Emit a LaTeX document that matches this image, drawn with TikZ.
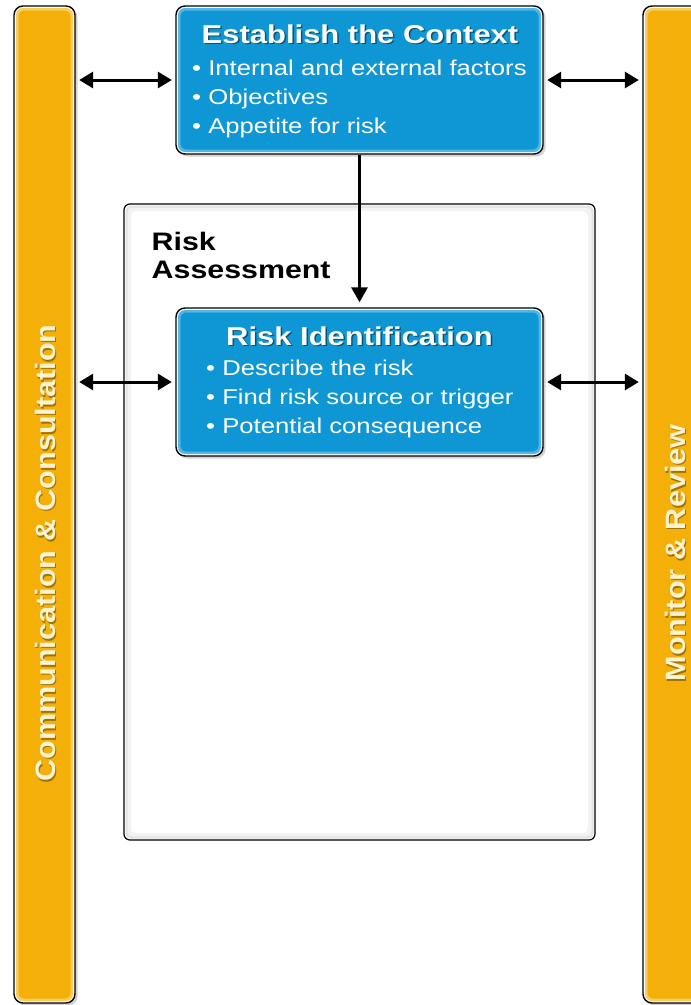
\documentclass[tikz,border=0pt]{standalone}
\usepackage{fontspec}
\setmainfont{Liberation Sans}
\newfontfamily\wide[FakeStretch=1.2]{Liberation Sans}
\usetikzlibrary{shadows,arrows.meta}
\definecolor{boxblue}{HTML}{0F97D5}
\definecolor{boxglow}{HTML}{52B6E6}
\definecolor{barorange}{HTML}{F4B008}
\definecolor{barglow}{HTML}{F8CB5A}
\definecolor{bartext}{HTML}{FFF3D2}
\begin{document}
\begin{tikzpicture}[x=1pt,y=-1pt,
  panel/.style={draw=black, line width=1.4pt, fill=white, rounded corners=9pt,
    inner sep=0pt, minimum width=367pt, minimum height=148pt,
    drop shadow={shadow xshift=2.5pt, shadow yshift=-2.5pt, opacity=0.35},
    path picture={
      \fill[boxglow, rounded corners=7pt] ([shift={(2pt,-2pt)}]path picture bounding box.north west) rectangle ([shift={(-2pt,2pt)}]path picture bounding box.south east);
      \fill[boxblue, rounded corners=6pt] ([shift={(4.5pt,-4.5pt)}]path picture bounding box.north west) rectangle ([shift={(-4.5pt,4.5pt)}]path picture bounding box.south east);
    }},
  bar/.style={draw=black, line width=1.4pt, fill=white, rounded corners=9pt,
    inner sep=0pt, minimum width=61pt, minimum height=997pt,
    drop shadow={shadow xshift=2.5pt, shadow yshift=-2.5pt, opacity=0.35},
    path picture={
      \fill[barglow, rounded corners=7pt] ([shift={(2pt,-2pt)}]path picture bounding box.north west) rectangle ([shift={(-2pt,2pt)}]path picture bounding box.south east);
      \fill[barorange, rounded corners=6pt] ([shift={(4.5pt,-4.5pt)}]path picture bounding box.north west) rectangle ([shift={(-4.5pt,4.5pt)}]path picture bounding box.south east);
    }},
  frame/.style={draw=black, line width=1.2pt, fill=white, rounded corners=6pt,
    inner sep=0pt, minimum width=471pt, minimum height=636pt,
    path picture={
      \fill[gray!22, rounded corners=5pt] ([shift={(1.5pt,-1.5pt)}]path picture bounding box.north west) rectangle ([shift={(-1.5pt,1.5pt)}]path picture bounding box.south east);
      \fill[gray!10, rounded corners=5pt] ([shift={(3.5pt,-3.5pt)}]path picture bounding box.north west) rectangle ([shift={(-3.5pt,3.5pt)}]path picture bounding box.south east);
      \fill[white, rounded corners=5pt] ([shift={(7pt,-7pt)}]path picture bounding box.north west) rectangle ([shift={(-7pt,7pt)}]path picture bounding box.south east);
    }},
  titletext/.style={text=white, inner sep=0pt, font={\wide\bfseries\fontsize{25.8}{29}\selectfont}},
  titleshadow/.style={text=black, opacity=0.45, inner sep=0pt, font={\wide\bfseries\fontsize{25.8}{29}\selectfont}},
  bullets/.style={text=white, inner sep=0pt, align=left, anchor=north west, font={\wide\fontsize{21.4}{29}\selectfont}},
  bartxt/.style={text=bartext, inner sep=0pt, rotate=90, font={\bfseries\fontsize{28}{30}\selectfont}},
  barshadow/.style={text=black, opacity=0.35, inner sep=0pt, rotate=90, font={\bfseries\fontsize{28}{30}\selectfont}},
  link/.style={line width=3pt, {Triangle[length=14pt,width=16pt]}-{Triangle[length=14pt,width=16pt]}, shorten <=3.5pt, shorten >=3.5pt},
  flow/.style={line width=3pt, -{Triangle[length=15pt,width=16pt]}, shorten >=5pt}
]
\useasboundingbox (0,0) rectangle (691,1005);
\clip (0,0) rectangle (691,1005);

% side bars
\node[bar] (lbar) at (44.5,504.5) {};
\node[bar] (rbar) at (673.5,504.5) {};
\node[barshadow] at (46.5,554.5) {\resizebox{457pt}{\height}{Communication \& Consultation}};
\node[bartxt] (ltxt) at (45,553) {\resizebox{457pt}{\height}{Communication \& Consultation}};
\node[barshadow] at (676.5,554.5) {\resizebox{257pt}{\height}{Monitor \& Review}};
\node[bartxt] (rtxt) at (675,553) {\resizebox{257pt}{\height}{Monitor \& Review}};

% risk assessment frame
\node[frame] (ra) at (359.5,522) {};
\node[inner sep=0pt, anchor=north west, align=left, font={\wide\bfseries\fontsize{25.3}{28.5}\selectfont}] (ralabel) at (151.5,231.5) {Risk\\Assessment};

% establish the context
\node[panel] (ctx) at (359.5,80) {};
\node[titleshadow, anchor=base] at (361.5,44.5) {Establish the Context};
\node[titletext, anchor=base] (ctxtitle) at (360,43) {Establish the Context};
\node[bullets] (ctxlist) at (192,59.5) {\textbullet\ Internal and external factors\\\textbullet\ Objectives\\\textbullet\ Appetite for risk};

% risk identification
\node[panel] (rid) at (359.5,382) {};
\node[titleshadow, anchor=base] at (361,346.5) {Risk Identification};
\node[titletext, anchor=base] (ridtitle) at (359.5,345) {Risk Identification};
\node[bullets] (ridlist) at (206,360) {\textbullet\ Describe the risk\\\textbullet\ Find risk source or trigger\\\textbullet\ Potential consequence};

% connectors
\draw[link] (ctx.west -| lbar.east) -- (ctx.west);
\draw[link] (ctx.east) -- (ctx.east -| rbar.west);
\draw[link] (rid.west -| lbar.east) -- (rid.west);
\draw[link] (rid.east) -- (rid.east -| rbar.west);
\draw[flow] (ctx.south) -- (rid.north);
\end{tikzpicture}
\end{document}
